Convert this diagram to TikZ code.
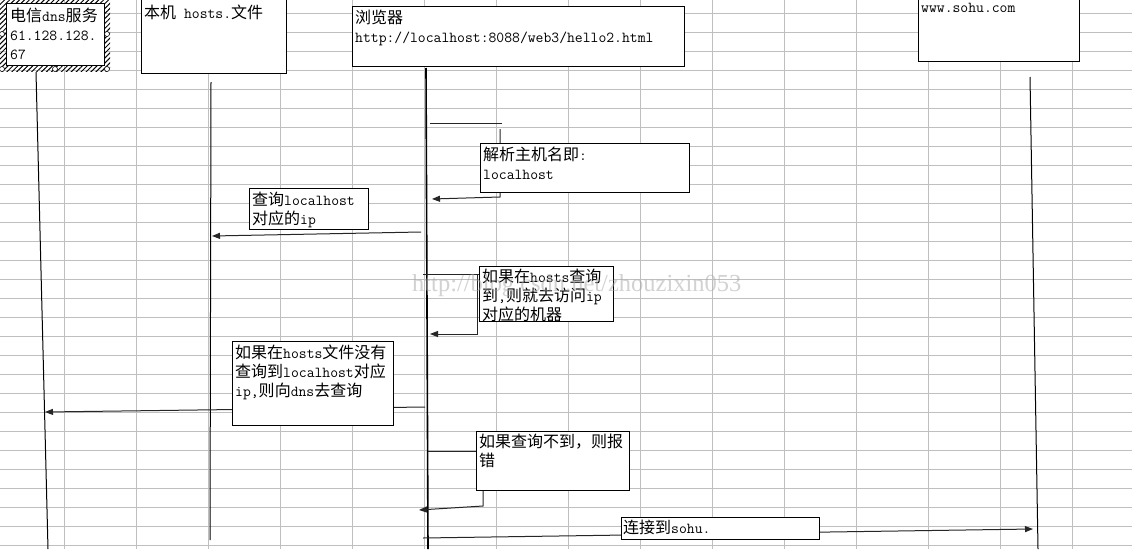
\documentclass[tikz,border=0pt]{standalone}
\usepackage{fontspec}
\newfontfamily\cjk[Scale=1.05]{Noto Sans CJK SC}
\newfontfamily\wmfont{Liberation Serif}
\usetikzlibrary{arrows.meta,patterns.meta}
\newcommand\zh[1]{{\cjk #1}}
\tikzset{
  gridline/.style={black!25, line width=1pt},
  life/.style={black, line width=1pt},
  msg/.style={black!85, line width=1pt},
  arr/.style={msg, -{Triangle[length=8pt,width=6pt]}},
  box/.style={draw=black, fill=white, line width=1pt, inner sep=0pt, outer sep=0pt, anchor=north west},
  txt/.style={inner sep=0pt, anchor=north west, align=left, font=\ttfamily\fontsize{15.24}{19}\selectfont},
  handle/.style={circle, draw=black, fill=white, line width=0.6pt, inner sep=0pt, minimum size=5pt}
}
\begin{document}
\begin{tikzpicture}[x=1pt,y=-1pt]
\useasboundingbox (0,0) rectangle (1132,549);
\fill[white] (0,0) rectangle (1132,549);
% grid
\foreach \k in {0,...,14} {\draw[gridline] ({64.5+72*\k},0) -- ({64.5+72*\k},549);}
\foreach \k in {0,...,28} {\draw[gridline] (0,{13+19*\k}) -- (1132,{13+19*\k});}

% lifelines
\coordinate (dT) at (36,72);   \coordinate (dB) at (48,549);
\coordinate (hT) at (211,82);  \coordinate (hB) at (210,540);
\coordinate (bT) at (426,68);  \coordinate (bB) at (428,549);
\coordinate (sT) at (1030,77); \coordinate (sB) at (1038,549);
\draw[life] (dT) -- (dB);
\draw[life] (hT) -- (hB);
\draw[life, line width=1.6pt] (bT) -- (bB);
\draw[life] (sT) -- (sB);

% message endpoints
\coordinate (m1a) at (430,123); \coordinate (m1b) at (502,123);
\coordinate (m1c) at (500,129); \coordinate (m1d) at (500,197); \coordinate (m1e) at (432,199);
\coordinate (m2a) at (421,232); \coordinate (m2b) at (212,236);
\coordinate (m3a) at (423,274); \coordinate (m3b) at (479,274);
\coordinate (m3c) at (477,274); \coordinate (m3d) at (477,334); \coordinate (m3e) at (430,334);
\coordinate (m4a) at (425,407); \coordinate (m4b) at (45,412);
\coordinate (m5a) at (428,451); \coordinate (m5b) at (476,451);
\coordinate (m5c) at (483,490); \coordinate (m5d) at (483,506); \coordinate (m5e) at (419,510);
\coordinate (m6a) at (423,538); \coordinate (m6b) at (1033,529);

\draw[msg] (m1a) -- (m1b);
\draw[arr] (m1c) -- (m1d) -- (m1e);
\draw[arr] (m2a) -- (m2b);
\draw[msg] (m3a) -- (m3b);
\draw[arr] (m3c) -- (m3d) -- (m3e);
\draw[arr] (m4a) -- (m4b);
\draw[msg] (m5a) -- (m5b);
\draw[arr] (m5c) -- (m5d) -- (m5e);
\draw[arr] (m6a) -- (m6b);

% DNS box with selection hatching
\fill[pattern={Lines[angle=45,distance=3.5pt,line width=1pt]}, pattern color=black] (0,-3) rectangle (110,71);
\node[box, minimum width=98pt, minimum height=62pt] (dnsbox) at (6,3) {};
\node[txt] (dnstxt) at ([shift={(4,5)}]dnsbox.north west) {\zh{电信}dns\zh{服务}\\61.128.128.\\67};
\foreach \p/\n in {{(2,34)}/h1,{(107,34)}/h2,{(2,69)}/h3,{(55,69)}/h4,{(107,69)}/h5} {\node[handle] (\n) at \p {};}

% other boxes
\node[box, minimum width=145pt, minimum height=78pt] (hostsbox) at (141,-5) {};
\node[txt] (hoststxt) at (144,5) {\zh{本机} hosts.\zh{文件}};

\node[box, minimum width=332pt, minimum height=60pt] (brbox) at (352,6) {};
\node[txt] (brtxt) at ([shift={(3,4)}]brbox.north west) {\zh{浏览器}\\http://localhost:8088/web3/hello2.html};

\node[box, minimum width=161pt, minimum height=66pt] (sohubox) at (918,-5) {};
\node[txt, anchor=base west] (sohutxt) at (921,12) {www.sohu.com};

\node[box, minimum width=209pt, minimum height=49pt] (parsebox) at (480,143) {};
\node[txt] (parsetxt) at ([shift={(3,4)}]parsebox.north west) {\zh{解析主机名即}:\\localhost};

\node[box, minimum width=119pt, minimum height=41pt] (qbox) at (249,188) {};
\node[txt] (qtxt) at ([shift={(3,4)}]qbox.north west) {\zh{查询}localhost\\\zh{对应的}ip};

\node[box, minimum width=134pt, minimum height=55pt] (foundbox) at (479,266) {};
\node[txt] (foundtxt) at ([shift={(3,3)}]foundbox.north west) {\zh{如果在}hosts\zh{查询}\\\zh{到},\zh{则就去访问}ip\\\zh{对应的机器}};

\node[box, minimum width=161pt, minimum height=84pt] (dnsqbox) at (232,341) {};
\node[txt] (dnsqtxt) at ([shift={(3,4)}]dnsqbox.north west) {\zh{如果在}hosts\zh{文件没有}\\\zh{查询到}localhost\zh{对应}\\ip,\zh{则向}dns\zh{去查询}};

\node[box, minimum width=153pt, minimum height=59pt] (errbox) at (476,431) {};
\node[txt] (errtxt) at ([shift={(3,3)}]errbox.north west) {\zh{如果查询不到，则报}\\\zh{错}};

\node[box, minimum width=198pt, minimum height=22pt] (connbox) at (621,517) {};
\node[txt] (conntxt) at ([shift={(2,3)}]connbox.north west) {\zh{连接到}sohu.};

% watermark
\node[inner sep=0pt, anchor=base west, text=black!35, opacity=0.5] (wm) at (412,291) {\resizebox{329pt}{!}{\wmfont http://blog.csdn.net/zhouzixin053}};
\end{tikzpicture}
\end{document}
